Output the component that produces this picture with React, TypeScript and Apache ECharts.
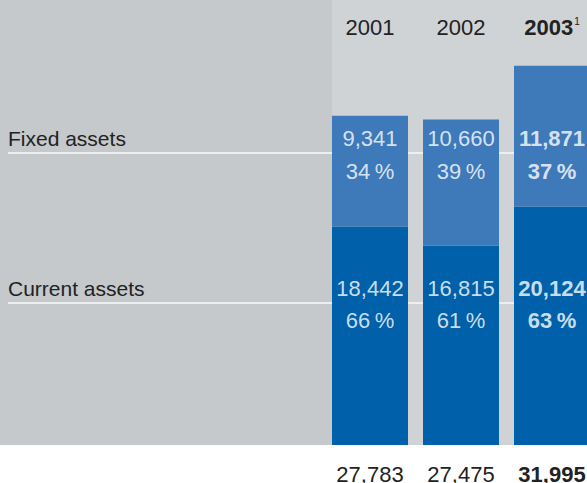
import React, { useEffect, useRef } from "react";
import * as echarts from "echarts";

// ---- data ----
const categories = ["2001", "2002", "2003"];
const fixedAssets = [9341, 10660, 11871];
const currentAssets = [18442, 16815, 20124];
const fixedPct = [34, 39, 37];
const currentPct = [66, 61, 63];
const totals = [27783, 27475, 31995];
const rowLabels = ["Fixed assets", "Current assets"];
const highlightIndex = 2; // 2003 in bold
const yearFootnote = "1";

// ---- layout / style ----
const W = 587;
const H = 483;
const PLOT_BOTTOM = 445;
const PANEL_X = 332;
const FONT = "'Liberation Sans', Arial, Helvetica, sans-serif";
const FS = 22;
const FS_ROW = 21;
const ROW_VALUE_Y = [138.5, 288];
const ROW_PCT_Y = [171, 320];
const ROW_LINE_Y = [153, 303];
const LIGHT_BLUE = "#3e79ba";
const DARK_BLUE = "#0060a9";
const TEXT_DARK = "#222222";

const fmt = (n: number) => String(n).replace(/\B(?=(\d{3})+(?!\d))/g, ",");

export default function App() {
  const ref = useRef<HTMLDivElement>(null);
  useEffect(() => {
    document.body.style.margin = "0";
    if (!ref.current) return;
    const chart = echarts.init(ref.current, undefined, { renderer: "svg" });

    const labelSeries = (values: string[], y: number) => ({
      type: "scatter",
      xAxisIndex: 0,
      yAxisIndex: 1,
      symbolSize: 1,
      silent: true,
      clip: false,
      z: 5,
      itemStyle: { color: "rgba(0,0,0,0)" },
      data: categories.map((c, i) => ({
        value: [c, y],
        label: {
          show: true,
          position: "inside",
          formatter: values[i],
          color: "#ffffff",
          fontFamily: FONT,
          fontSize: FS,
          fontWeight: i === highlightIndex ? "bold" : "normal",
        },
      })),
    });

    const pctStr = (p: number) => `${p}\u2009%`;

    const graphic: any[] = [
      { type: "rect", z: -10, shape: { x: 0, y: 0, width: PANEL_X, height: PLOT_BOTTOM }, style: { fill: "#c5c9cc" } },
      { type: "rect", z: -10, shape: { x: PANEL_X, y: 0, width: W - PANEL_X, height: PLOT_BOTTOM }, style: { fill: "#cfd3d5" } },
    ];
    rowLabels.forEach((t, r) => {
      graphic.push({
        type: "line",
        z: -5,
        shape: { x1: 8, y1: ROW_LINE_Y[r], x2: W, y2: ROW_LINE_Y[r] },
        style: { stroke: "#eceeef", lineWidth: 2 },
      });
      graphic.push({
        type: "text",
        z: -5,
        x: 8,
        y: ROW_VALUE_Y[r],
        style: {
          text: t,
          fill: TEXT_DARK,
          fontFamily: FONT,
          fontSize: FS_ROW,
          verticalAlign: "middle",
          align: "left",
        },
      });
    });

    chart.setOption({
      animation: false,
      grid: {
        left: 370,
        right: 35,
        top: 0,
        height: PLOT_BOTTOM,
        containLabel: false,
        outerBoundsMode: "none",
      },
      graphic,
      xAxis: [
        {
          type: "category",
          data: categories,
          boundaryGap: false,
          position: "top",
          axisLine: { show: false },
          axisTick: { show: false },
          axisLabel: {
            inside: true,
            interval: 0,
            margin: 16,
            color: TEXT_DARK,
            fontFamily: FONT,
            fontSize: FS,
            formatter: (v: string, i: number) =>
              i === highlightIndex ? `{b|${v}}{sup|${yearFootnote}}` : v,
            rich: {
              b: { fontWeight: "bold", fontSize: FS, fontFamily: FONT, color: TEXT_DARK },
              sup: { fontSize: 10, fontFamily: FONT, color: TEXT_DARK, verticalAlign: "top", padding: [0, 0, 10, 1] },
            },
          },
        },
        {
          type: "category",
          data: categories,
          boundaryGap: false,
          position: "bottom",
          gridIndex: 0,
          axisLine: { show: false },
          axisTick: { show: false },
          axisLabel: {
            interval: 0,
            margin: 21.5,
            lineHeight: 16,
            color: TEXT_DARK,
            fontFamily: FONT,
            fontSize: FS,
            formatter: (_v: string, i: number) =>
              i === highlightIndex ? `{b|${fmt(totals[i])}}` : fmt(totals[i]),
            rich: { b: { fontWeight: "bold", fontSize: FS, lineHeight: 16, fontFamily: FONT, color: TEXT_DARK } },
          },
        },
      ],
      yAxis: [
        { type: "value", min: 0, max: 37550, show: false },
        { type: "value", min: 0, max: PLOT_BOTTOM, inverse: true, show: false },
      ],
      series: [
        {
          name: "Current assets",
          type: "bar",
          stack: "total",
          barWidth: 76,
          clip: false,
          xAxisIndex: 0,
          yAxisIndex: 0,
          itemStyle: { color: DARK_BLUE },
          data: currentAssets,
        },
        {
          name: "Fixed assets",
          type: "bar",
          stack: "total",
          barWidth: 76,
          clip: false,
          xAxisIndex: 0,
          yAxisIndex: 0,
          itemStyle: { color: LIGHT_BLUE },
          data: fixedAssets,
        },
        labelSeries(fixedAssets.map(fmt), ROW_VALUE_Y[0]),
        labelSeries(fixedPct.map(pctStr), ROW_PCT_Y[0]),
        labelSeries(currentAssets.map(fmt), ROW_VALUE_Y[1]),
        labelSeries(currentPct.map(pctStr), ROW_PCT_Y[1]),
      ],
    } as any);

    return () => chart.dispose();
  }, []);

  return (
    <div
      ref={ref}
      style={{ position: "absolute", left: 0, top: 0, width: W, height: H, background: "#ffffff" }}
    />
  );
}
